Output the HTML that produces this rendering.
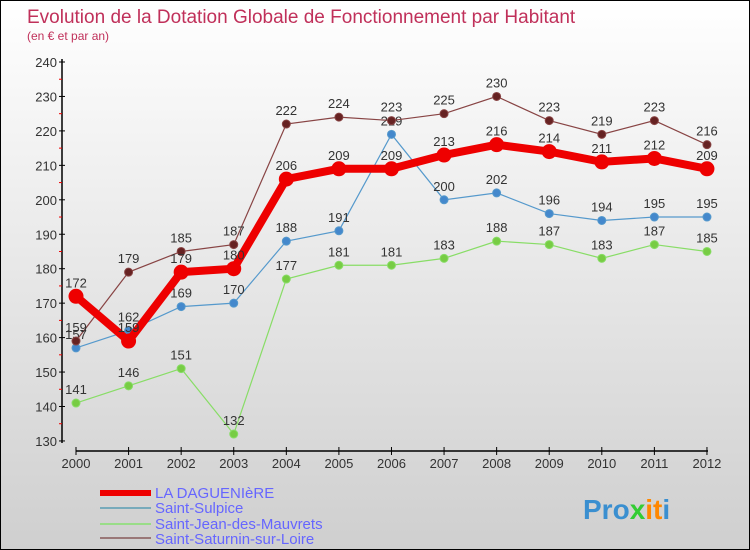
<!DOCTYPE html>
<html><head><meta charset="utf-8"><style>
body{margin:0}
#c{width:748px;height:548px;border:1px solid #000;background:linear-gradient(#fff,#cfcfcf);position:relative;font-family:"Liberation Sans",sans-serif;overflow:hidden}
</style></head><body>
<div id="c">
<svg id="s" width="748" height="548">
<text x="26" y="22" font-size="19" fill="#c0305a">Evolution de la Dotation Globale de Fonctionnement par Habitant</text>
<text x="26" y="39" font-size="12" fill="#c0305a">(en € et par an)</text>
<g id="axes"></g><g id="series"></g>
<g>
<rect x="99" y="489" width="51" height="6" fill="#e00"/>
<text x="154" y="497" font-size="15" fill="#66f">LA DAGUENIèRE</text>
<rect x="99" y="506" width="51" height="2" fill="#7ab"/>
<text x="154" y="512" font-size="15" fill="#66f">Saint-Sulpice</text>
<rect x="99" y="522" width="51" height="2" fill="#9d8"/>
<text x="154" y="528" font-size="15" fill="#66f">Saint-Jean-des-Mauvrets</text>
<rect x="99" y="536" width="51" height="2" fill="#977"/>
<text x="154" y="543" font-size="15" fill="#66f">Saint-Saturnin-sur-Loire</text>
</g>
<text x="582" y="518" font-size="28" font-weight="bold"><tspan fill="#3a8fd0">Pro</tspan><tspan fill="#3c3">x</tspan><tspan fill="#f80">it</tspan><tspan fill="#3a8fd0">i</tspan></text>
</svg>
</div>
<script>
const years=[2000,2001,2002,2003,2004,2005,2006,2007,2008,2009,2010,2011,2012];
const yTicks=[130,140,150,160,170,180,190,200,210,220,230,240];
const laDag=[172,159,179,180,206,209,209,213,216,214,211,212,209];
const sulpice=[157,162,169,170,188,191,219,200,202,196,194,195,195];
const jean=[141,146,151,132,177,181,181,183,188,187,183,187,185];
const saturnin=[159,179,185,187,222,224,223,225,230,223,219,223,216];
const NS="http://www.w3.org/2000/svg";
const X=i=>75+i*52.58, Y=v=>61+(240-v)*3.445;
function mk(t,a,p){const e=document.createElementNS(NS,t);for(const k in a)e.setAttribute(k,a[k]);p.appendChild(e);return e;}
const ax=document.getElementById('axes');
let l=mk('line',{x1:61,y1:58,x2:61,y2:442,stroke:'#000','stroke-width':1.5},ax);


l=mk('line',{x1:75,y1:450,x2:707,y2:450,stroke:'#000','stroke-width':1.5},ax);


yTicks.forEach((v,i)=>{
 mk('line',{x1:58,y1:Y(v),x2:64,y2:Y(v),stroke:'#000'},ax);
 if(i<yTicks.length-1)mk('line',{x1:58,y1:Y(v+5),x2:61,y2:Y(v+5),stroke:'#e00'},ax);
 const t=mk('text',{x:56,y:Y(v)+5,'font-size':13,fill:'#333','text-anchor':'end'},ax);t.textContent=v;
 
 
});
years.forEach((y,i)=>{
 mk('line',{x1:X(i),y1:446,x2:X(i),y2:454,stroke:'#000'},ax);
 const t=mk('text',{x:X(i),y:467,'font-size':13,fill:'#333','text-anchor':'middle'},ax);t.textContent=y;
 
 
});
const sg=document.getElementById('series');
function draw(vals,col,dot,w,r,name){
 const g=mk('g',{},sg);
 
 
 mk('polyline',{points:vals.map((v,i)=>X(i)+','+Y(v)).join(' '),fill:'none',stroke:col,'stroke-width':w},g);
 vals.forEach((v,i)=>{
  const c=mk('circle',{cx:X(i),cy:Y(v),r:r,fill:dot,stroke:col,'stroke-width':1},g);
  
  
  const t=mk('text',{x:X(i),y:Y(v)-9,'font-size':13,fill:'#333','text-anchor':'middle'},g);t.textContent=v;
 });
}
draw(jean,'#8d6','#7c4',1.2,4,'series-saint-jean');
draw(sulpice,'#59c','#48c',1.2,4,'series-saint-sulpice');
draw(saturnin,'#844','#622',1.2,4,'series-saint-saturnin');
draw(laDag,'#e00','#e00',8,7,'series-la-daguéniere');
</script>
</body></html>
